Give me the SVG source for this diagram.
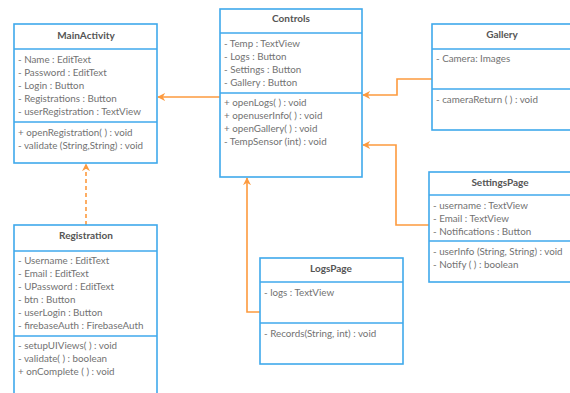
<svg xmlns="http://www.w3.org/2000/svg" width="570" height="393" viewBox="0 0 570 393">
<defs>
<style>
.box{fill:#fff;stroke:#3fa9ec;stroke-width:1.6}
.div{stroke:#3fa9ec;stroke-width:1.6}
.t{font-family:Lato,"Open Sans","Liberation Sans",sans-serif;font-size:9.8px;fill:#727272}
.h{font-family:Lato,"Open Sans","Liberation Sans",sans-serif;font-size:10px;font-weight:bold;fill:#555;text-anchor:middle}
.c{fill:none;stroke:#fd9a3e;stroke-width:1.6}
.d{stroke-dasharray:4 3}
</style>
<marker id="arr" viewBox="0 0 10 10" refX="9" refY="5" markerWidth="8" markerHeight="8" markerUnits="userSpaceOnUse" orient="auto">
<path d="M0,0 L10,5 L0,10 L3,5 Z" fill="#fd9a3e"/>
</marker>
</defs>
<rect width="570" height="393" fill="#fff"/>
<g id="connectors">
<path class="c" d="M220,97 H158" marker-end="url(#arr)"/>
<path class="c d" d="M86,225 V164" marker-end="url(#arr)"/>
<path class="c" d="M432,79 H397 V95 H363" marker-end="url(#arr)"/>
<path class="c" d="M429,225 H396 V145 H363" marker-end="url(#arr)"/>
<path class="c" d="M260,312 H247 V178" marker-end="url(#arr)"/>
</g>
<g id="MainActivity">
<rect class="box" x="14" y="24" width="143" height="139"/>
<line class="div" x1="14" y1="49" x2="157" y2="49"/>
<line class="div" x1="14" y1="122" x2="157" y2="122"/>
<text class="h" x="86" y="39">MainActivity</text>
<text class="t" x="18" y="63">- Name : EditText</text>
<text class="t" x="18" y="76">- Password : EditText</text>
<text class="t" x="18" y="89">- Login : Button</text>
<text class="t" x="18" y="102">- Registrations : Button</text>
<text class="t" x="18" y="115">- userRegistration : TextView</text>
<text class="t" x="18" y="136">+ openRegistration( ) : void</text>
<text class="t" x="18" y="149">- validate (String,String) : void</text>
</g>
<g id="Controls">
<rect class="box" x="220" y="9" width="142" height="168"/>
<line class="div" x1="220" y1="33" x2="362" y2="33"/>
<line class="div" x1="220" y1="93" x2="362" y2="93"/>
<text class="h" x="291" y="22">Controls</text>
<text class="t" x="224" y="47">- Temp : TextView</text>
<text class="t" x="224" y="60">- Logs : Button</text>
<text class="t" x="224" y="73">- Settings : Button</text>
<text class="t" x="224" y="86">- Gallery : Button</text>
<text class="t" x="224" y="106">+ openLogs( ) : void</text>
<text class="t" x="224" y="119">+ openuserInfo( ) : void</text>
<text class="t" x="224" y="132">+ openGallery( ) : void</text>
<text class="t" x="224" y="145">- TempSensor (int) : void</text>
</g>
<g id="Gallery">
<rect class="box" x="432" y="24" width="142" height="106"/>
<line class="div" x1="432" y1="49" x2="574" y2="49"/>
<line class="div" x1="432" y1="89" x2="574" y2="89"/>
<text class="h" x="502" y="38">Gallery</text>
<text class="t" x="436" y="62">- Camera: Images</text>
<text class="t" x="436" y="103">- cameraReturn ( ) : void</text>
</g>
<g id="SettingsPage">
<rect class="box" x="429" y="172" width="144" height="110"/>
<line class="div" x1="429" y1="195" x2="573" y2="195"/>
<line class="div" x1="429" y1="241" x2="573" y2="241"/>
<text class="h" x="500" y="186">SettingsPage</text>
<text class="t" x="433" y="209">- username : TextView</text>
<text class="t" x="433" y="222">- Email : TextView</text>
<text class="t" x="433" y="235">- Notifications : Button</text>
<text class="t" x="433" y="255">- userInfo (String, String) : void</text>
<text class="t" x="433" y="268">- Notify ( ) : boolean</text>
</g>
<g id="LogsPage">
<rect class="box" x="260" y="258" width="143" height="106"/>
<line class="div" x1="260" y1="282" x2="403" y2="282"/>
<line class="div" x1="260" y1="323" x2="403" y2="323"/>
<text class="h" x="331" y="272">LogsPage</text>
<text class="t" x="264" y="296">- logs : TextView</text>
<text class="t" x="264" y="337">- Records(String, int) : void</text>
</g>
<g id="Registration">
<rect class="box" x="14" y="225" width="143" height="180"/>
<line class="div" x1="14" y1="251" x2="157" y2="251"/>
<line class="div" x1="14" y1="336" x2="157" y2="336"/>
<text class="h" x="86" y="239">Registration</text>
<text class="t" x="18" y="264">- Username : EditText</text>
<text class="t" x="18" y="277">- Email : EditText</text>
<text class="t" x="18" y="290">- UPassword : EditText</text>
<text class="t" x="18" y="303">- btn : Button</text>
<text class="t" x="18" y="316">- userLogin : Button</text>
<text class="t" x="18" y="329">- firebaseAuth : FirebaseAuth</text>
<text class="t" x="18" y="349">- setupUIViews( ) : void</text>
<text class="t" x="18" y="362">- validate( ) : boolean</text>
<text class="t" x="18" y="375">+ onComplete ( ) : void</text>
</g>
</svg>
